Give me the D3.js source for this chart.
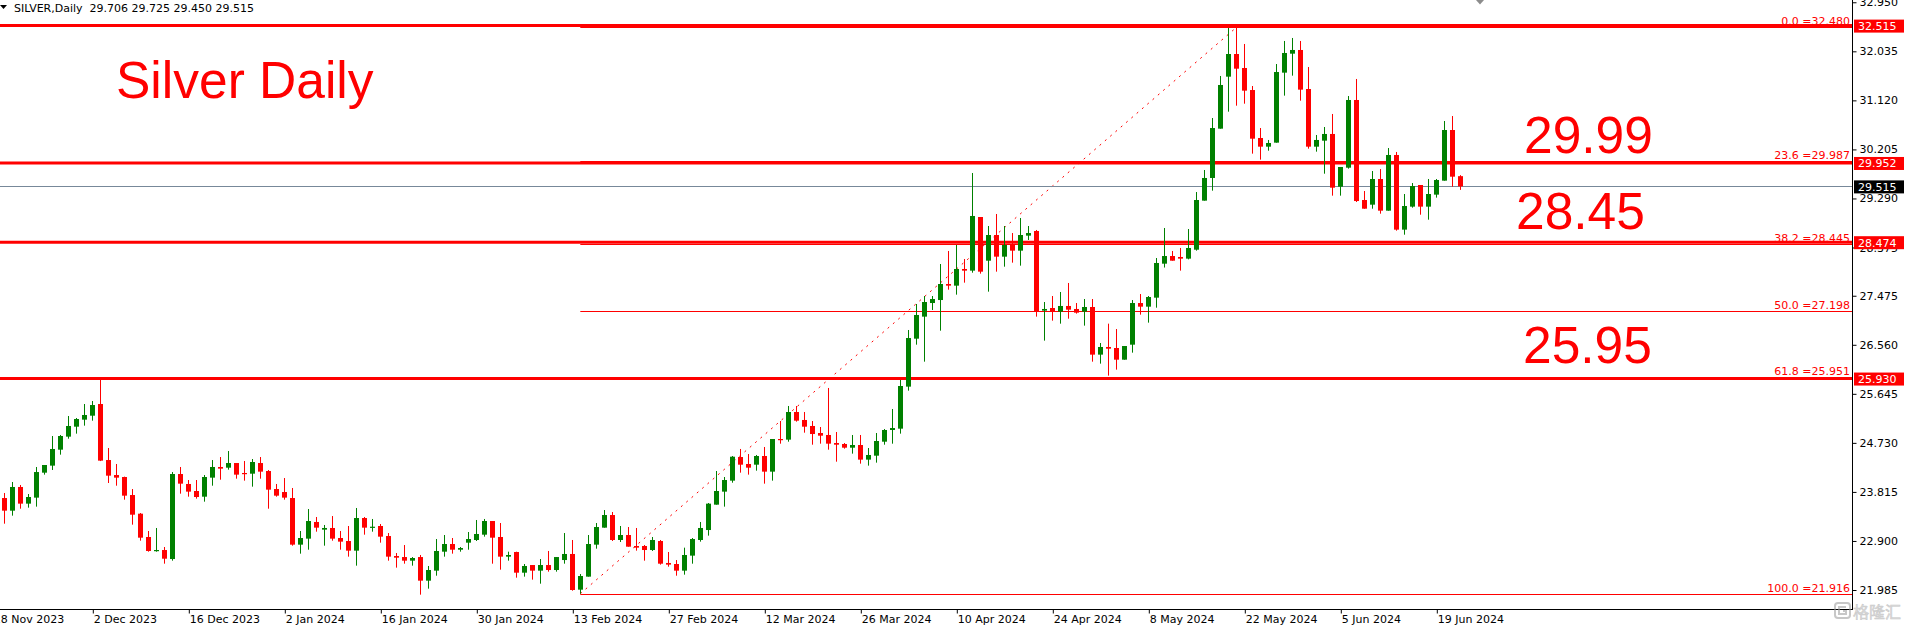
<!DOCTYPE html>
<html><head><meta charset="utf-8">
<script src="https://cdn.jsdelivr.net/npm/d3@7"></script>
<style>
html,body{margin:0;padding:0;background:#fff;overflow:hidden}
svg{display:block}
</style></head><body>
<svg id="chart" width="1909" height="628"></svg>
<script>
// ---------- DATA ----------
const opens = [23.701,23.465,23.907,23.596,23.708,24.174,24.305,24.603,24.846,25.032,25.163,25.237,25.455,24.410,24.130,24.093,23.757,23.409,22.974,22.713,
22.731,22.563,24.149,23.963,23.832,23.726,24.081,24.280,24.267,24.354,24.168,24.155,24.354,24.205,23.869,23.813,23.701,22.831,22.943,23.254,
23.111,23.142,22.955,22.899,22.719,23.328,23.148,23.179,22.992,22.619,22.600,22.532,22.600,22.159,22.346,22.700,22.843,22.737,22.868,22.918,
23.017,23.272,22.974,22.607,22.694,22.308,22.451,22.346,22.451,22.358,22.544,22.657,21.991,22.234,22.831,23.148,23.384,22.918,23.011,22.806,
22.806,22.731,22.899,22.489,22.470,22.346,22.626,22.918,23.104,23.577,23.820,24.025,24.466,24.336,24.323,24.485,24.193,24.802,24.790,25.306,
25.157,25.045,24.914,24.877,24.727,24.709,24.640,24.690,24.417,24.491,24.752,24.970,24.995,25.779,26.674,27.085,27.339,27.395,27.694,27.663,
27.974,27.943,28.944,28.129,28.608,28.204,28.422,28.316,28.596,28.683,27.197,27.246,27.178,27.284,27.228,27.178,27.265,26.376,26.519,26.500,
26.282,26.562,27.339,27.271,27.439,28.073,28.216,28.198,28.167,28.334,29.249,29.672,30.592,31.562,31.985,31.724,31.313,30.418,30.256,30.331,
31.637,31.991,32.060,31.332,30.256,30.368,30.493,29.510,29.864,31.127,29.261,29.174,29.653,29.062,30.101,28.708,29.137,29.541,29.137,29.361,
29.622,30.567,29.706];
const highs = [23.795,24.000,23.944,23.776,24.280,24.317,24.858,24.877,25.231,25.194,25.455,25.511,25.950,24.634,24.336,24.100,23.869,23.421,23.086,23.142,
22.787,24.186,24.280,24.037,24.037,24.130,24.410,24.466,24.578,24.354,24.392,24.429,24.466,24.224,23.963,24.074,23.888,23.086,23.496,23.347,
23.198,23.365,23.086,23.179,23.515,23.347,23.310,23.216,23.048,22.675,22.824,22.600,22.638,22.433,22.936,23.011,22.955,22.787,23.067,23.291,
23.310,23.272,23.235,22.700,22.700,22.470,22.451,22.563,22.713,22.600,23.048,22.918,22.283,23.011,23.235,23.477,23.440,23.179,23.160,23.142,
22.824,22.974,22.918,22.694,22.544,22.775,22.955,23.254,23.608,24.205,24.093,24.485,24.616,24.522,24.504,24.653,24.802,25.138,25.418,25.418,
25.306,25.138,25.026,25.754,24.933,24.727,24.877,24.877,24.634,24.914,24.989,25.362,25.903,26.836,27.321,27.470,27.470,28.067,28.310,28.422,
28.160,29.765,28.944,28.776,29.000,28.776,28.645,28.925,28.776,28.702,27.358,27.470,27.545,27.713,27.339,27.414,27.414,26.593,26.954,26.854,
26.537,27.395,27.507,27.470,28.179,28.739,28.310,28.366,28.720,29.410,29.821,30.791,31.575,32.470,32.480,32.172,31.388,30.604,30.381,31.798,
32.228,32.284,32.228,31.742,30.474,30.623,30.866,29.877,31.201,31.519,29.429,29.802,29.839,30.231,30.157,29.373,29.578,29.541,29.653,29.653,
30.735,30.828,29.725];
const lows = [23.222,23.372,23.502,23.521,23.540,24.137,24.224,24.510,24.808,24.902,25.051,25.144,24.390,23.981,23.931,23.670,23.204,22.905,22.700,22.700,
22.476,22.532,23.782,23.726,23.689,23.633,23.931,24.043,24.230,24.062,24.025,23.913,24.062,23.502,23.726,23.670,22.812,22.663,22.737,23.073,
22.812,22.905,22.737,22.607,22.439,23.017,23.073,22.868,22.532,22.402,22.476,22.439,21.898,22.010,22.252,22.607,22.663,22.700,22.737,22.899,
22.980,22.476,22.364,22.532,22.215,22.234,22.178,22.103,22.327,22.327,22.476,21.972,21.916,22.234,22.756,23.148,22.899,22.880,22.793,22.719,
22.532,22.713,22.458,22.420,22.252,22.271,22.476,22.887,22.999,23.577,23.540,23.987,24.174,24.137,24.211,23.969,24.025,24.715,24.752,25.126,
24.920,24.696,24.715,24.603,24.379,24.622,24.529,24.342,24.305,24.361,24.696,24.715,24.902,25.704,26.562,26.245,27.209,26.823,27.588,27.495,
27.719,27.905,27.887,27.551,27.924,28.017,28.092,28.036,28.515,27.085,26.637,27.010,26.954,27.047,27.141,26.917,26.245,26.208,25.984,26.096,
26.282,26.413,27.122,26.973,27.252,28.001,28.129,27.943,28.154,28.316,29.249,29.435,30.592,30.909,31.021,31.058,30.126,30.014,30.181,30.331,
31.208,31.581,31.114,30.219,30.163,29.752,29.342,29.342,29.846,29.224,29.099,29.099,29.006,29.062,28.689,28.614,29.118,28.987,28.894,29.305,
29.622,29.510,29.450];
const closes = [23.465,23.907,23.596,23.720,24.186,24.317,24.616,24.858,25.045,25.175,25.250,25.436,24.398,24.118,24.081,23.745,23.390,22.961,22.713,22.731,
22.569,24.149,23.969,23.820,23.720,24.093,24.280,24.249,24.354,24.137,24.155,24.373,24.193,23.857,23.745,23.708,22.831,22.955,23.272,23.148,
23.142,22.943,22.887,22.719,23.328,23.148,23.166,22.980,22.607,22.588,22.532,22.582,22.159,22.358,22.713,22.843,22.737,22.768,22.936,23.030,
23.272,22.961,22.607,22.638,22.308,22.433,22.346,22.451,22.358,22.600,22.657,21.985,22.246,22.843,23.160,23.384,22.918,23.011,22.793,22.775,
22.731,22.918,22.476,22.458,22.346,22.638,22.936,23.142,23.596,23.832,24.037,24.472,24.323,24.267,24.485,24.193,24.802,24.783,25.306,25.144,
25.032,24.895,24.864,24.715,24.696,24.640,24.690,24.417,24.504,24.765,24.970,25.007,25.791,26.686,27.116,27.358,27.414,27.694,27.663,27.974,
27.943,28.963,27.924,28.608,28.204,28.422,28.316,28.608,28.645,27.178,27.228,27.178,27.284,27.215,27.159,27.265,26.376,26.519,26.487,26.282,
26.537,27.339,27.271,27.451,28.086,28.216,28.129,28.167,28.366,29.261,29.672,30.604,31.407,31.985,31.711,31.301,30.405,30.256,30.325,31.649,
32.004,32.060,31.320,30.256,30.381,30.493,29.491,29.877,31.127,29.242,29.099,29.653,29.062,30.101,28.708,29.149,29.522,29.137,29.373,29.634,
30.567,29.696,29.515];

const dateTickBars   = [-1.5,11,23,35,47,59,71,83,95,107,119,131,143,155,167,179];
const dateTickLabels = ["18 Nov 2023","2 Dec 2023","16 Dec 2023","2 Jan 2024","16 Jan 2024","30 Jan 2024","13 Feb 2024","27 Feb 2024",
  "12 Mar 2024","26 Mar 2024","10 Apr 2024","24 Apr 2024","8 May 2024","22 May 2024","5 Jun 2024","19 Jun 2024"];
const priceTicks = [32.950,32.035,31.120,30.205,29.290,28.375,27.475,26.560,25.645,24.730,23.815,22.900,21.985];

const levelLines = [32.515,29.952,28.474,25.930];
const fibLabels  = ["0.0","23.6","38.2","50.0","61.8","100.0"];
const fibValues  = [32.480,29.987,28.445,27.198,25.951,21.916];
const fibStartBar = 72, fibEndBar = 154;
const lastPrice = 29.515;
const bigLabels = ["29.99","28.45","25.95"];
const headerText = "SILVER,Daily  29.706 29.725 29.450 29.515";
const titleText = "Silver Daily";

// ---------- DRAW ----------
const W = 1909, H = 628, axisX = 1852, axisY = 609;
const RED = "#ff0000", GREEN = "#008000";
const svg = d3.select("#chart");
svg.append("rect").attr("width", W).attr("height", H).attr("fill", "#fff");

const x = d3.scaleLinear().domain([0, 182]).range([4.3, 1460.3]);
const y = d3.scaleLinear().domain([21.985, 32.950]).range([590, 2.28]);

svg.append("defs").append("clipPath").attr("id", "plot")
  .append("rect").attr("x", 0).attr("y", 0).attr("width", axisX).attr("height", axisY);

const plot = svg.append("g").attr("clip-path", "url(#plot)");

// level lines (thick)
plot.selectAll(".lvl").data(levelLines).enter().append("line")
  .attr("x1", 0).attr("x2", axisX)
  .attr("y1", d => y(d)).attr("y2", d => y(d))
  .attr("stroke", RED).attr("stroke-width", 3);

// fib lines
plot.selectAll(".fib").data(fibValues).enter().append("line")
  .attr("x1", x(fibStartBar)).attr("x2", axisX)
  .attr("y1", d => Math.round(y(d)) + 0.5).attr("y2", d => Math.round(y(d)) + 0.5)
  .attr("stroke", RED).attr("stroke-width", 1);
// fib diagonal
plot.append("line")
  .attr("x1", x(fibStartBar)).attr("y1", y(fibValues[5]))
  .attr("x2", x(fibEndBar)).attr("y2", y(fibValues[0]))
  .attr("stroke", RED).attr("stroke-width", 1).attr("stroke-dasharray", "2,5");

// last price line
plot.append("line").attr("x1", 0).attr("x2", axisX)
  .attr("y1", Math.round(y(lastPrice)) + 0.5).attr("y2", Math.round(y(lastPrice)) + 0.5)
  .attr("stroke", "#778899").attr("stroke-width", 1);

// candles
const bars = d3.range(opens.length).map(i => ({i, o: opens[i], h: highs[i], l: lows[i], c: closes[i]}));
const cg = plot.append("g");
cg.selectAll(".wick").data(bars).enter().append("line")
  .attr("x1", d => Math.round(x(d.i)) + 0.5).attr("x2", d => Math.round(x(d.i)) + 0.5)
  .attr("y1", d => y(d.h)).attr("y2", d => y(d.l))
  .attr("stroke", d => d.c >= d.o ? GREEN : RED).attr("stroke-width", 1);
cg.selectAll(".body").data(bars).enter().append("rect")
  .attr("x", d => Math.round(x(d.i)) - 2).attr("width", 5)
  .attr("y", d => y(Math.max(d.o, d.c)))
  .attr("height", d => Math.max(1.2, Math.abs(y(d.o) - y(d.c))))
  .attr("fill", d => d.c >= d.o ? GREEN : RED);

// fib labels
svg.selectAll(".fibt").data(fibValues).enter().append("text")
  .attr("x", 1850).attr("y", d => Math.round(y(d)) - 2)
  .attr("text-anchor", "end")
  .attr("font-family", "DejaVu Sans").attr("font-size", 11).attr("fill", RED)
  .text((d, i) => fibLabels[i] + " =" + d.toFixed(3));

// axes
const yAxis = d3.axisRight(y).tickValues(priceTicks).tickFormat(d3.format(".3f")).tickSize(4).tickPadding(3);
const gy = svg.append("g").attr("transform", `translate(${axisX + 0.5},0)`).call(yAxis);
gy.select(".domain").remove();
gy.attr("font-family", "DejaVu Sans").attr("font-size", 11);
gy.selectAll("line").attr("stroke", "#000");
gy.selectAll("text").attr("fill", "#000");

const xAxis = d3.axisBottom(x).tickValues(dateTickBars).tickFormat((d, i) => dateTickLabels[i]).tickSize(4);
const gx = svg.append("g").attr("transform", `translate(0,${axisY + 0.5})`).call(xAxis);
gx.select(".domain").remove();
gx.attr("font-family", "DejaVu Sans").attr("font-size", 11);
gx.selectAll(".tick line").attr("stroke", "#000").attr("transform", "translate(0.5,0)");
gx.selectAll("text").attr("text-anchor", "start").attr("dy", null).attr("y", 13.5).attr("x", 1).attr("fill", "#000");

svg.append("line").attr("x1", axisX + 0.5).attr("x2", axisX + 0.5).attr("y1", 0).attr("y2", axisY + 1).attr("stroke", "#000");
svg.append("line").attr("x1", 0).attr("x2", axisX + 1).attr("y1", axisY + 0.5).attr("y2", axisY + 0.5).attr("stroke", "#000");

// price boxes
const boxes = levelLines.map(v => ({v, bg: RED})).concat([{v: lastPrice, bg: "#000"}]);
const bx = svg.selectAll(".box").data(boxes).enter().append("g");
bx.append("rect").attr("x", 1854).attr("y", d => y(d.v) - 6).attr("width", 50).attr("height", 13).attr("fill", d => d.bg);
bx.append("text").attr("x", 1858).attr("y", d => y(d.v) + 4.5)
  .attr("font-family", "DejaVu Sans").attr("font-size", 11).attr("fill", "#fff")
  .text(d => d.v.toFixed(3));

// header
svg.append("path").attr("d", "M0,5 L7,5 L3.5,9 Z").attr("fill", "#000");
svg.append("text").attr("x", 14).attr("y", 12).attr("xml:space", "preserve").style("white-space", "pre")
  .attr("font-family", "DejaVu Sans").attr("font-size", 11).attr("fill", "#000").text(headerText);
// small marker at top
svg.append("path").attr("d", "M1476,0 L1484,0 L1480,4.5 Z").attr("fill", "#8c8c8c");

// big texts
const big = (t, xx, yy) => svg.append("text").attr("x", xx).attr("y", yy)
  .attr("font-family", "Liberation Sans, Arial, sans-serif").attr("font-size", 51.5).attr("fill", RED).text(t);
big(titleText, 116, 98);
big(bigLabels[0], 1524, 152.5);
big(bigLabels[1], 1516, 229);
big(bigLabels[2], 1523, 362.5);

// watermark
const wm = svg.append("g").attr("opacity", 0.55);
wm.append("rect").attr("x", 1835).attr("y", 603).attr("width", 15).attr("height", 15).attr("rx", 3)
  .attr("fill", "none").attr("stroke", "#9a9a9a").attr("stroke-width", 2);
wm.append("path").attr("d", "M1846,607 L1839,607 L1839,614 L1846,614 L1846,611 L1843,611").attr("fill", "none").attr("stroke", "#9a9a9a").attr("stroke-width", 2);
wm.append("text").attr("x", 1853).attr("y", 618).attr("font-family", "Noto Sans CJK SC").attr("font-size", 16)
  .attr("fill", "#bdbdbd").attr("stroke", "#9a9a9a").attr("stroke-width", 0.5).text("格隆汇");
</script>
</body></html>
